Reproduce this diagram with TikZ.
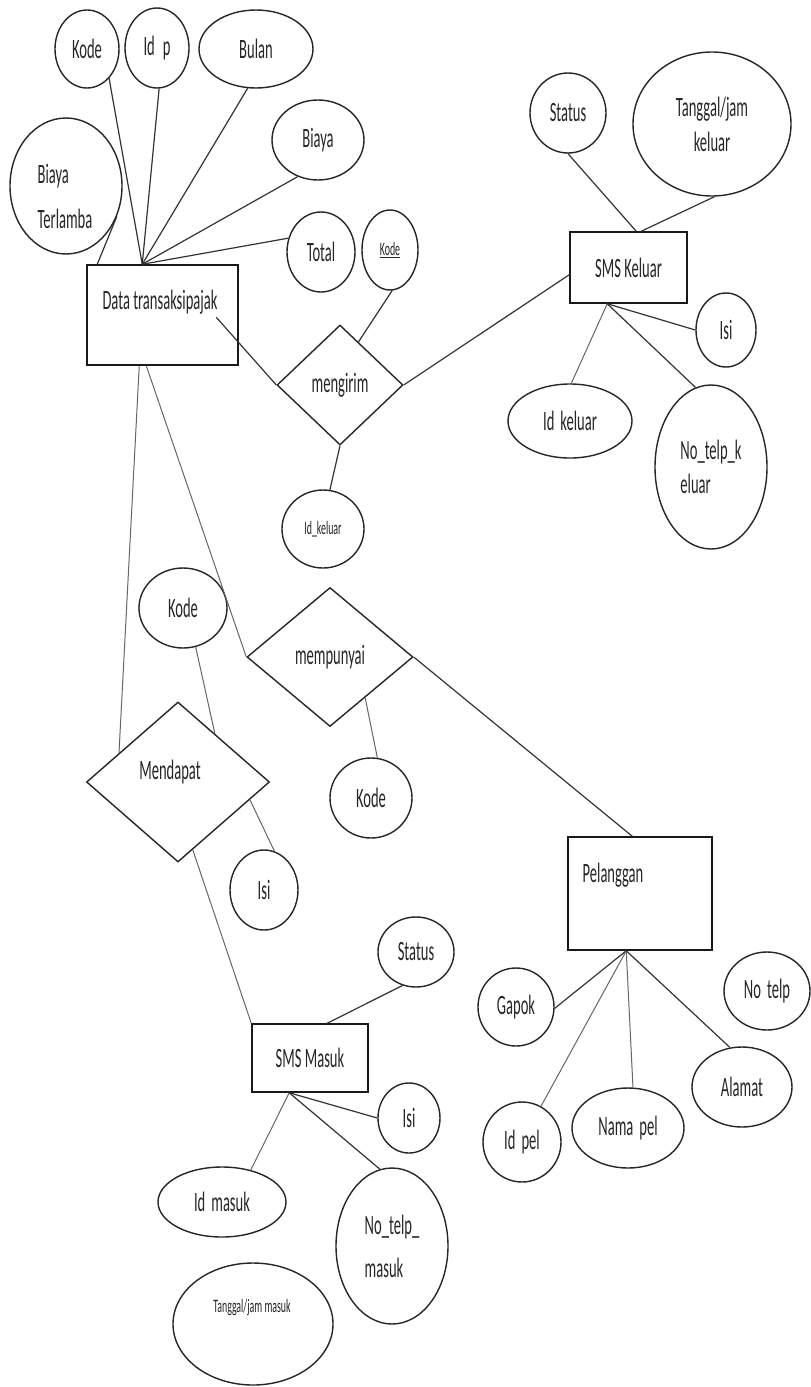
\documentclass[tikz,border=0pt]{standalone}
\usepackage{fontspec}
\setmainfont{Carlito}[FakeStretch=0.52]
\usetikzlibrary{shapes.geometric,calc}
\begin{document}
\begin{tikzpicture}[x=1pt,y=-1pt,
 txt/.style={font=\fontsize{28}{34}\selectfont, text=black!85, inner sep=0pt, align=center},
 smalltxt/.style={font=\fontsize{19}{22}\selectfont, text=black!85, inner sep=0pt},
 attr/.style={ellipse, draw=black!85, line width=1.4pt, inner sep=0pt, txt},
 ent/.style={rectangle, draw=black!90, line width=1.5pt, inner sep=0pt, txt},
 rel/.style={diamond, draw=black!85, line width=1.4pt, inner sep=0pt, txt},
 link/.style={draw=black!80, line width=1.2pt},
 faint/.style={draw=black!60, line width=1pt}]
\useasboundingbox (0,0) rectangle (811,1387);
\fill[white] (0,0) rectangle (811,1387);

% entities
\node[ent, minimum width=151, minimum height=100] (dt) at (162.5,315) {};
\node[txt] (dtt) at (160,302) {Data transaksipajak};
\node[ent, minimum width=117, minimum height=71] (sk) at (628.5,267.5) {SMS Keluar};
\node[ent, minimum width=144, minimum height=113] (pel) at (640,893.5) {};
\node[txt] (pelt) at (613,875) {Pelanggan};
\node[ent, minimum width=116, minimum height=68] (sm) at (310,1058) {SMS Masuk};

% relationships
\node[rel, minimum width=126, minimum height=120] (kirim) at (340,385) {mengirim};
\node[rel, minimum width=166, minimum height=139] (punya) at (330,657) {mempunyai};
\node[rel, minimum width=183, minimum height=160] (dapat) at (178,782) {};
\node[txt] (dapatt) at (170,772) {Mendapat};

% attributes of Data transaksipajak
\node[attr, minimum width=64, minimum height=78] (kode1) at (87,49) {Kode};
\node[attr, minimum width=64, minimum height=80] (idp) at (157,48) {Id\hspace{8pt}p};
\node[attr, minimum width=114, minimum height=78] (bulan) at (256,49) {Bulan};
\node[attr, minimum width=92, minimum height=80] (biaya) at (318,140) {Biaya};
\node[attr, minimum width=112, minimum height=136] (biayat) at (66,186) {};
\node[txt, align=left, font=\fontsize{28}{45}\selectfont] (biayatt) at (65,196) {Biaya\\Terlamba};
\node[attr, minimum width=68, minimum height=80] (total) at (321,252) {Total};
\node[attr, minimum width=56, minimum height=80, smalltxt] (kodeu) at (390,250) {\underline{Kode}};
\node[attr, minimum width=82, minimum height=78, smalltxt] (idk) at (323,529) {Id\_keluar};

% attributes of SMS Keluar
\node[attr, minimum width=76, minimum height=80] (status1) at (568,113) {Status};
\node[attr, minimum width=158, minimum height=144, font=\fontsize{28}{35}\selectfont] (tgl1) at (712,124) {Tanggal/jam\\keluar};
\node[attr, minimum width=60, minimum height=74] (isi1) at (726,330) {Isi};
\node[attr, minimum width=124, minimum height=74] (idkel) at (570,421) {Id\hspace{6pt}keluar};
\node[attr, minimum width=112, minimum height=164, align=left] (ntk) at (711,467) {No\_telp\_k\\eluar};

% other attributes
\node[attr, minimum width=88, minimum height=80] (kode2) at (183,608) {Kode};
\node[attr, minimum width=82, minimum height=80] (kode3) at (371,798) {Kode};
\node[attr, minimum width=68, minimum height=80] (isi2) at (264,890) {Isi};

% attributes of Pelanggan
\node[attr, minimum width=76, minimum height=78] (gapok) at (516,1007) {Gapok};
\node[attr, minimum width=86, minimum height=78] (notelp) at (767,991) {No\hspace{6pt}telp};
\node[attr, minimum width=100, minimum height=80] (alamat) at (742,1087) {Alamat};
\node[attr, minimum width=78, minimum height=80] (idpel) at (522,1142) {Id\hspace{6pt}pel};
\node[attr, minimum width=112, minimum height=80] (namapel) at (628,1128) {Nama\hspace{6pt}pel};

% attributes of SMS Masuk
\node[attr, minimum width=76, minimum height=70] (status2) at (416,952) {Status};
\node[attr, minimum width=62, minimum height=70] (isi3) at (409,1118) {Isi};
\node[attr, minimum width=128, minimum height=70] (idmasuk) at (222,1202) {Id\hspace{6pt}masuk};
\node[attr, minimum width=112, minimum height=156, align=left, font=\fontsize{28}{43}\selectfont] (ntm) at (392,1246) {No\_telp\_\\masuk};
\node[attr, minimum width=160, minimum height=122] (tjm) at (253,1324) {};
\node[smalltxt] (tjmt) at (252,1308) {Tanggal/jam masuk};

% connection points
\coordinate (dtp) at ($(dt.north west)+(56,0)$);
\coordinate (dtl) at ($(dt.north west)+(11,0)$);
\coordinate (dtm) at ($(dt.north west)+(130,53)$);
\coordinate (dtb1) at ($(dt.south west)+(53,0)$);
\coordinate (dtb2) at ($(dt.south west)+(60,0)$);
\coordinate (skl) at ($(sk.north west)!0.6!(sk.south west)$);
\coordinate (skt1) at ($(sk.north west)+(67,0)$);
\coordinate (skt2) at ($(sk.north west)+(72,0)$);
\coordinate (skb) at ($(sk.south west)+(38,0)$);
\coordinate (pelt1) at ($(pel.north west)+(65,0)$);
\coordinate (pelb) at ($(pel.south west)+(59,0)$);
\coordinate (smt) at ($(sm.north west)+(76,0)$);
\coordinate (smb) at ($(sm.south west)+(38,0)$);
\coordinate (kirimk) at ($(kirim.north)!0.29!(kirim.east)$);
\coordinate (punyak) at ($(punya.south)!0.42!(punya.east)$);
\coordinate (dapatl) at ($(dapat.west)!0.36!(dapat.north)$);
\coordinate (dapatk) at ($(dapat.north)!0.40!(dapat.east)$);
\coordinate (dapati) at ($(dapat.east)!0.22!(dapat.south)$);
\coordinate (dapatb) at ($(dapat.south)!0.16!(dapat.east)$);

% connectors: Data transaksipajak
\draw[link] (kode1.-53) -- (dtp);
\draw[link] (idp.-87) -- (dtp);
\draw[link] (bulan.-102) -- (dtp);
\draw[link] (biaya.-119) -- (dtp);
\draw[link] (total.157) -- (dtp);
\draw[link] (biayat.-31) -- (dtl);
\draw[link] (dtm) -- (kirim.west);
\draw[link] (kodeu.-87) -- (kirimk);
\draw[link] (kirim.south) -- (idk.80);
\draw[link] (kirim.east) -- (skl);
\draw[faint] (dtb1) -- (dapatl);
\draw[faint] (dtb2) -- (punya.west);

% SMS Keluar
\draw[link] (status1.south) -- (skt1);
\draw[link] (tgl1.-88) -- (skt2);
\draw[link] (skb) -- (isi1.180);
\draw[faint] (skb) -- (idkel.88);
\draw[link] (skb) -- (ntk.101);

% mempunyai / Mendapat
\draw[faint] (kode2.-72) -- (dapatk);
\draw[faint] (punyak) -- (kode3.81);
\draw[faint] (dapati) -- (isi2.75);
\draw[faint] (dapatb) -- (sm.north west);
\draw[link] (punya.east) -- (pelt1);

% Pelanggan
\draw[link] (pelb) -- (gapok.-2);
\draw[faint] (pelb) -- (idpel.62);
\draw[faint] (pelb) -- (namapel.83);
\draw[link] (pelb) -- (alamat.107);

% SMS Masuk
\draw[link] (status2.-112) -- (smt);
\draw[link] (smb) -- (isi3.180);
\draw[faint] (smb) -- (idmasuk.48);
\draw[link] (smb) -- (ntm.99);
\end{tikzpicture}
\end{document}
